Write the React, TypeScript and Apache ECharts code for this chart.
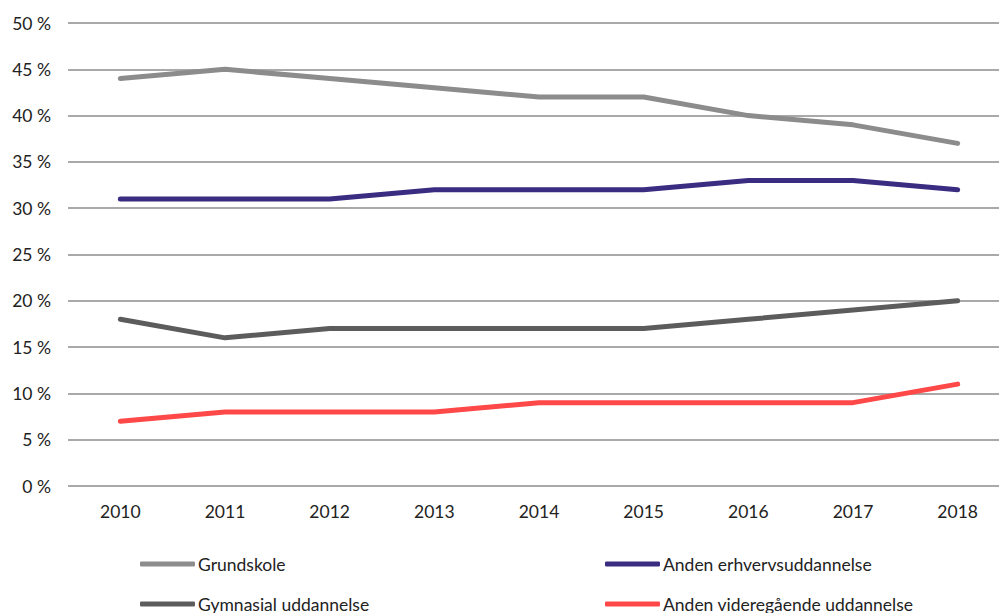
import React, { useEffect, useRef } from "react";
import * as echarts from "echarts";

const years = ["2010", "2011", "2012", "2013", "2014", "2015", "2016", "2017", "2018"];
const grundskole = [44, 45, 44, 43, 42, 42, 40, 39, 37];
const erhverv = [31, 31, 31, 32, 32, 32, 33, 33, 32];
const gymnasial = [18, 16, 17, 17, 17, 17, 18, 19, 20];
const videregaaende = [7, 8, 8, 8, 9, 9, 9, 9, 11];

const names = [
  "Grundskole",
  "Anden erhvervsuddannelse",
  "Gymnasial uddannelse",
  "Anden videregående uddannelse",
];
const colors = ["#8c8c8c", "#3a2c80", "#5c5c5c", "#ff4848"];
const seriesData = [grundskole, erhverv, gymnasial, videregaaende];

const FONT = "Lato, 'Noto Sans', sans-serif";

export default function App() {
  const ref = useRef<HTMLDivElement>(null);
  useEffect(() => {
    if (!ref.current) return;
    const chart = echarts.init(ref.current, undefined, { renderer: "svg" });
    const legendPos = [
      { left: 140, top: 555 },
      { left: 605, top: 555 },
      { left: 140, top: 595 },
      { left: 605, top: 595 },
    ];
    chart.setOption({
      animation: false,
      textStyle: { fontFamily: FONT },
      grid: { left: 68, right: 0, top: 23, bottom: 127, containLabel: false },
      legend: names.map((n, i) => ({
        data: [n],
        left: legendPos[i].left,
        top: legendPos[i].top,
        icon: "roundRect",
        itemWidth: 55,
        itemHeight: 5,
        itemGap: 0,
        padding: 0,
        textStyle: { fontSize: 17.5, color: "#222", fontFamily: FONT, padding: [0, 0, 0, -2] },
      })),
      xAxis: {
        type: "category",
        data: years,
        boundaryGap: true,
        axisLine: { show: false },
        axisTick: { show: false },
        axisLabel: { fontSize: 17.5, color: "#222", margin: 16, fontFamily: FONT },
      },
      yAxis: {
        type: "value",
        min: 0,
        max: 50,
        interval: 5,
        axisLine: { show: false },
        axisTick: { show: false },
        axisLabel: {
          fontSize: 17.5,
          color: "#222",
          margin: 17,
          fontFamily: FONT,
          formatter: (v: number) => `${v} %`,
        },
        splitLine: { lineStyle: { color: "#8c8c8c", width: 1.5 } },
      },
      series: names.map((n, i) => ({
        name: n,
        type: "line",
        data: seriesData[i],
        symbol: "none",
        color: colors[i],
        lineStyle: { width: 5, color: colors[i], cap: "round", join: "round" },
      })),
    });
    return () => chart.dispose();
  }, []);
  return (
    <div
      style={{
        position: "fixed",
        left: 0,
        top: 0,
        width: 999,
        height: 613,
        overflow: "hidden",
        background: "#fff",
      }}
    >
      <div ref={ref} style={{ width: 1010, height: 613 }} />
    </div>
  );
}
